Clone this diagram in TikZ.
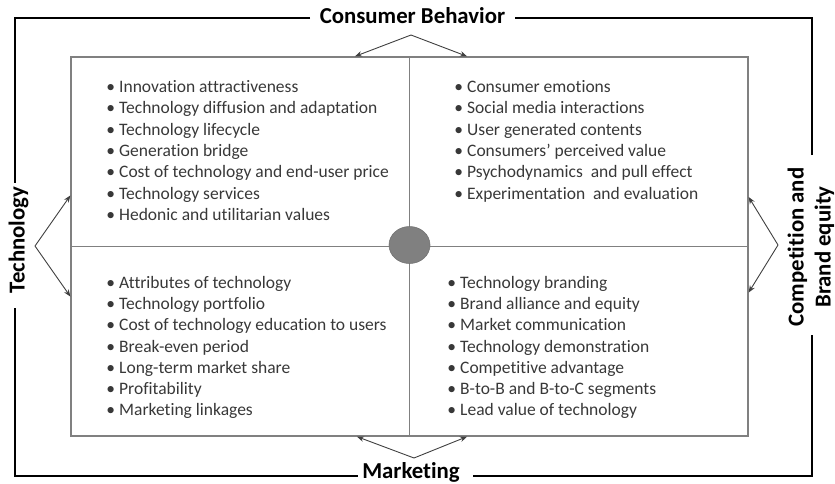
\documentclass[tikz,border=0pt]{standalone}
\usepackage{fontspec}
\setmainfont{Carlito}[Ligatures=NoCommon]
\usetikzlibrary{arrows.meta,shapes.geometric}
% bullet hung to the left of an entry
\newcommand\bul{\makebox[0pt][r]{\textbullet\hspace{4pt}}}
\begin{document}
\begin{tikzpicture}[x=1pt,y=-1pt,
  frame/.style={line width=2.2pt,draw=black},
  gridline/.style={line width=1.3pt,draw=black!50},
  link/.style={line width=0.9pt,draw=black!75,-{Stealth[length=7pt,width=5.5pt]}},
  heading/.style={font=\fontsize{22.8}{27}\selectfont\bfseries,inner sep=0pt,text=black},
  entry/.style={font=\fontsize{17.5}{21.4}\selectfont,inner sep=0pt,anchor=base west,text=black!78},
]
\useasboundingbox (0,0) rectangle (835,483);

% central grid with four quadrants
\node[draw=black!50,line width=1.3pt,minimum width=677pt,minimum height=379pt,inner sep=0pt] (grid) at (409.5,246.5) {};
\draw[gridline] (grid.north) -- (grid.south);
\draw[gridline] (grid.west) -- (grid.east);
\node[ellipse,fill=black!50,draw=black!55,line width=0.6pt,minimum width=41pt,minimum height=37pt,inner sep=0pt] (hub) at (409.5,245) {};

% headings on the four sides
\node[heading,anchor=base] (cb) at (412.5,23.5) {Consumer Behavior};
\node[heading,anchor=base] (mk) at (411,478) {Marketing};
\node[heading,rotate=90] (tech) at (18.5,240) {Technology};
\node[heading,rotate=90,align=center] (comp) at (811,247) {Competition and\\Brand equity};

% outer frame, broken around the headings
\coordinate (cbL) at (310,18);
\coordinate (cbR) at (515,18);
\coordinate (tecT) at (15,183);
\coordinate (tecB) at (15,308);
\coordinate (mkL) at (358,476);
\coordinate (mkR) at (473,476);
\coordinate (ceB) at (812,335);
\coordinate (ceT) at (812,155);
\draw[frame] (cbL) -| (tecT);
\draw[frame] (tecB) |- (mkL);
\draw[frame] (mkR) -| (ceB);
\draw[frame] (ceT) |- (cbR);

% forked arrows from each heading to the grid
\coordinate (apT) at (411,35);
\coordinate (apB) at (414,458);
\coordinate (apL) at (35,246);
\coordinate (apR) at (778,245);
\draw[link] (apT) -- ([xshift=-54.5pt]grid.north);
\draw[link] (apT) -- ([xshift=57.5pt]grid.north);
\draw[link] (apB) -- ([xshift=-52.5pt]grid.south);
\draw[link] (apB) -- ([xshift=57.5pt]grid.south);
\draw[link] (apL) -- ([yshift=51pt]grid.west);
\draw[link] (apL) -- ([yshift=-50pt]grid.west);
\draw[link] (apR) -- ([yshift=49.5pt]grid.east);
\draw[link] (apR) -- ([yshift=-46pt]grid.east);

% quadrant entries
\foreach \t [count=\i] in {Innovation attractiveness,Technology diffusion and adaptation,Technology lifecycle,Generation bridge,Cost of technology and end-user price,Technology services,Hedonic and utilitarian values}
  \node[entry] (tl-\i) at (119,{92.5+21.3*(\i-1)}) {\bul\t};
\foreach \t [count=\i] in {Consumer emotions,Social media interactions,User generated contents,Consumers’ perceived value,Psychodynamics\ \ and pull effect,Experimentation\ \ and evaluation}
  \node[entry] (tr-\i) at (467,{92.5+21.3*(\i-1)}) {\bul\t};
\foreach \t [count=\i] in {Attributes of technology,Technology portfolio,Cost of technology education to users,Break-even period,Long-term market share,Profitability,Marketing linkages}
  \node[entry] (bl-\i) at (119,{288.5+21.2*(\i-1)}) {\bul\t};
\foreach \t [count=\i] in {Technology branding,Brand alliance and equity,Market communication,Technology demonstration,Competitive advantage,B-to-B and B-to-C segments,Lead value of technology}
  \node[entry] (br-\i) at (460,{288.5+21.2*(\i-1)}) {\bul\t};
\end{tikzpicture}
\end{document}
